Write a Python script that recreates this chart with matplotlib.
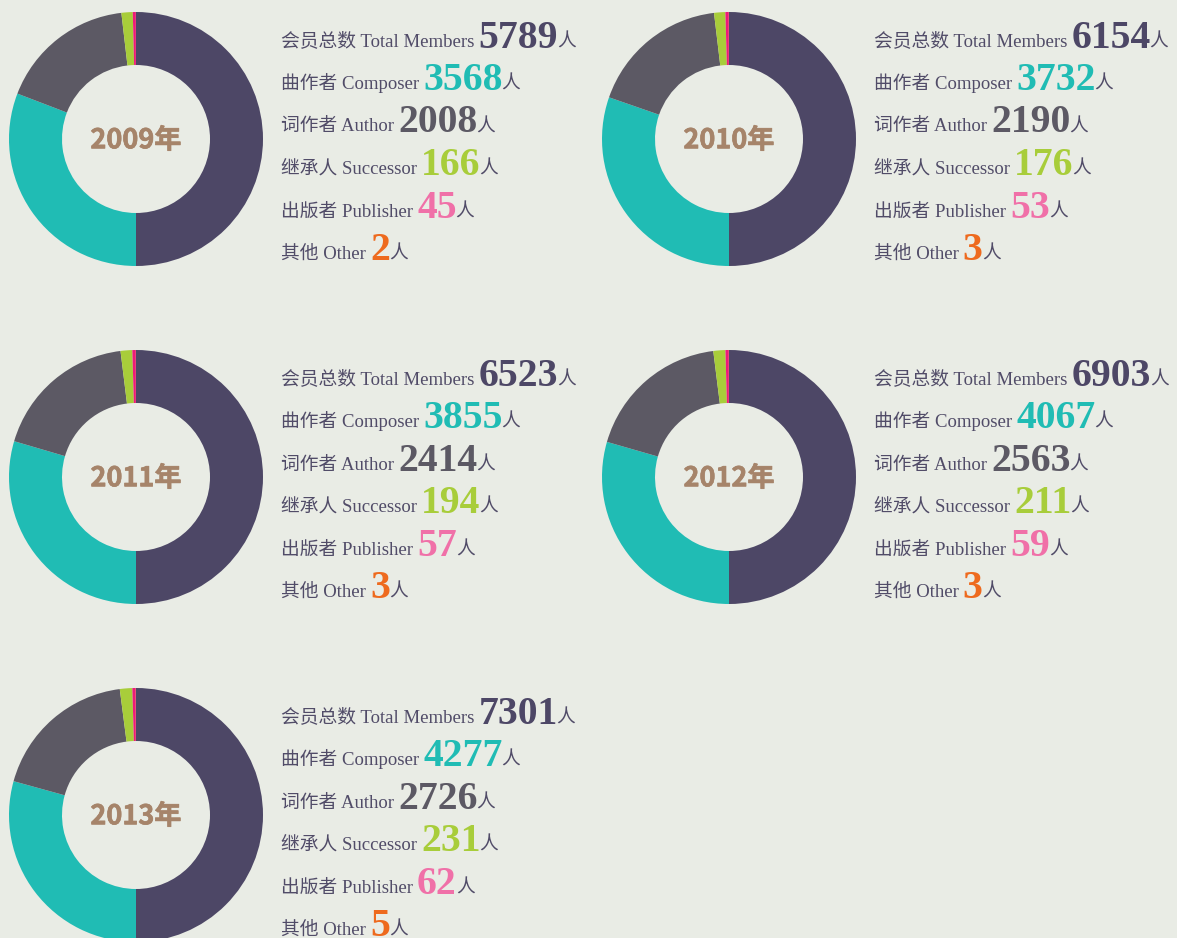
import matplotlib
matplotlib.use("Agg")
import matplotlib.pyplot as plt
import matplotlib.patheffects as pe

years = [2009, 2010, 2011, 2012, 2013]
total = [5789, 6154, 6523, 6903, 7301]
composer = [3568, 3732, 3855, 4067, 4277]
author = [2008, 2190, 2414, 2563, 2726]
successor = [166, 176, 194, 211, 231]
publisher = [45, 53, 57, 59, 62]
other = [2, 3, 3, 3, 5]

labels = ["会员总数 Total Members", "曲作者 Composer", "词作者 Author",
          "继承人 Successor", "出版者 Publisher", "其他 Other"]
text_colors = ["#4d4766", "#20bcb4", "#5c5964", "#a8cd3a", "#f070a8", "#ee6a1e"]
wedge_colors = ["#4d4766", "#20bcb4", "#5c5964", "#a8cd3a", "#ee1a7a", "#f0582a"]

BG = "#e9ece5"
W, H = 1177, 938
fig = plt.figure(figsize=(W / 100, H / 100), dpi=100, facecolor=BG)

centers = [(136, 139), (729, 139), (136, 477), (729, 477), (136, 815)]
R_OUT, R_IN = 127, 74

def fx(x):
    return x / W

def fy(y):
    return 1 - y / H

renderer = fig.canvas.get_renderer()
lab_family = ["Liberation Serif", "Noto Sans CJK SC"]
num_family = ["Liberation Serif"]
label_color = "#514c68"

for i, yr in enumerate(years):
    cx, cy = centers[i]
    ax = fig.add_axes([fx(cx - R_OUT), fy(cy + R_OUT), 2 * R_OUT / W, 2 * R_OUT / H])
    ax.set_facecolor("none")
    vals = [total[i], composer[i], author[i], successor[i], publisher[i], other[i]]
    ax.pie(vals, colors=wedge_colors, startangle=90, counterclock=False, radius=1,
           wedgeprops=dict(width=(R_OUT - R_IN) / R_OUT, linewidth=0))
    ax.set_xlim(-1, 1)
    ax.set_ylim(-1, 1)
    ax.set_aspect("equal")
    ax.axis("off")
    ax.text(0, -0.01, f"{yr}年", ha="center", va="center", fontsize=19.5, fontweight="bold",
            color="#a6846a", family=["Noto Sans CJK SC"],
            path_effects=[pe.withStroke(linewidth=0.5, foreground="#a6846a")])

    # text block
    tx = cx + 145
    base0 = cy - 92.5
    for j in range(6):
        by = base0 + j * 42.5
        t1 = fig.text(fx(tx), fy(by), labels[j], fontsize=13.5, color=label_color,
                      family=lab_family, ha="left", va="baseline")
        bb = t1.get_window_extent(renderer)
        x2 = bb.x1 + 4
        t2 = fig.text(x2 / W, fy(by + 1), str(vals[j]), fontsize=28.5, fontweight="bold",
                      color=text_colors[j], family=num_family, ha="left", va="baseline")
        bb2 = t2.get_window_extent(renderer)
        fig.text((bb2.x1 - 1) / W, fy(by), "人", fontsize=13.5, color=label_color,
                 family=["Noto Sans CJK SC"], ha="left", va="baseline")

fig.savefig("out.png", dpi=100, facecolor=BG)
